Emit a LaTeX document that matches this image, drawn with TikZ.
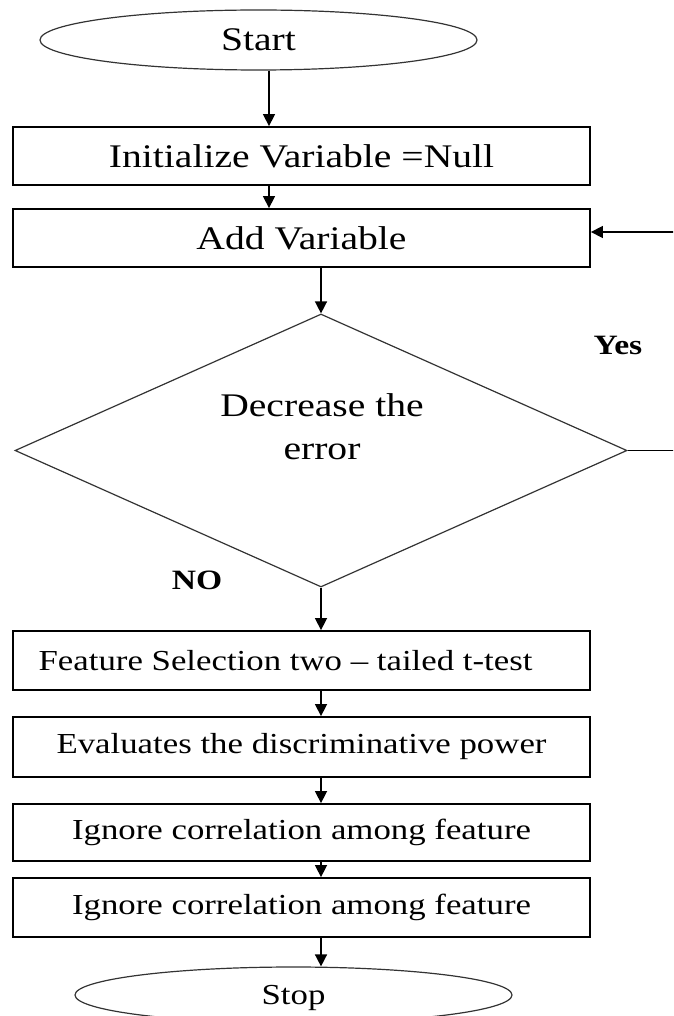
\documentclass[tikz,border=0pt]{standalone}
\usepackage{fontspec}
\setmainfont{Liberation Serif}
\newfontfamily\flowfont[FakeStretch=1.2]{Liberation Serif}
\usetikzlibrary{shapes.geometric,arrows.meta}
\tikzset{
  procbox/.style={draw, line width=1.8pt, minimum width=577pt, inner sep=0pt},
  terminal/.style={draw=black!80, ellipse, line width=1.2pt, minimum width=437pt, inner sep=0pt},
  decision/.style={draw=black!80, diamond, line width=1.2pt, aspect=2.24, inner sep=0pt,
    minimum width=612pt, minimum height=273pt},
  bigtext/.style={font=\flowfont\fontsize{33}{43}\selectfont},
  smalltext/.style={font=\flowfont\fontsize{29}{36}\selectfont},
  answer/.style={font=\flowfont\bfseries\fontsize{28}{34}\selectfont},
  flowarrow/.style={-{Triangle[length=12pt,width=12pt]}, line width=1.5pt},
}
\begin{document}
\begin{tikzpicture}[x=1pt, y=-1pt]
    \clip (0,0) rectangle (673,1016);
    % Start and the first two steps
    \node[terminal, minimum height=60pt, bigtext] (start) at (258.5,40) {Start};
    \node[procbox, minimum height=58pt, bigtext] (init) at (301.5,156) {Initialize Variable =Null};
    \node[procbox, minimum height=58pt, bigtext] (add) at (301.5,238) {Add Variable};

    % decision
    \node[decision] (dec) at (321,450.5) {};
    \node[bigtext, align=center] (dectext) at (322,427) {Decrease the\\error};
    \node[answer] (yes) at (618,345) {Yes};
    \node[answer] (no) at (197,580) {NO};

    % feature selection steps
    \node[procbox, minimum height=59pt, smalltext] (feat) at (301.5,660.5) {Feature Selection two – tailed t-test\hspace*{32pt}};
    \node[procbox, minimum height=60pt, smalltext] (eval) at (301.5,747) {Evaluates the discriminative power};
    \node[procbox, minimum height=57pt, smalltext] (ign1) at (301.5,832.5) {Ignore correlation among feature};
    \node[procbox, minimum height=59pt, smalltext] (ign2) at (301.5,907.5) {Ignore correlation among feature};
    \node[terminal, minimum height=56pt, smalltext, text depth=0pt] (stop) at (293.5,995) {Stop};

    % arrows
    \coordinate (upx) at (269,0);
    \coordinate (loopx) at (690,0);
    \draw[flowarrow] (start.south -| upx) -- (init.north -| upx);
    \draw[flowarrow] (init.south -| upx) -- (add.north -| upx);
    \draw[flowarrow] (add.south -| dec.north) -- (dec.north);
    \draw[flowarrow] (dec.south) -- (feat.north -| dec.south);
    \foreach \a/\b in {feat/eval, eval/ign1, ign1/ign2, ign2/stop} {
        \draw[flowarrow] (\a.south -| dec.south) -- (\b.north -| dec.south);
    }
    % loop back on "Yes"
    \draw[flowarrow] (dec.east) -- (dec.east -| loopx) |- ([yshift=6pt]add.east);
\end{tikzpicture}
\end{document}
